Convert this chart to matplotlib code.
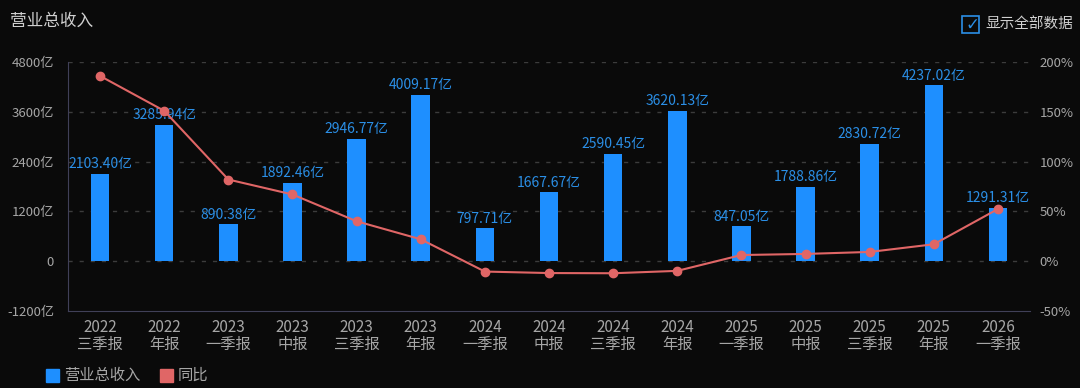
import matplotlib
matplotlib.use("Agg")
import matplotlib.pyplot as plt
from matplotlib.patches import Rectangle
import numpy as np

plt.rcParams['font.family'] = ['Noto Sans CJK SC', 'DejaVu Sans']

# 数据
periods = ["2022\n三季报", "2022\n年报", "2023\n一季报", "2023\n中报", "2023\n三季报",
           "2023\n年报", "2024\n一季报", "2024\n中报", "2024\n三季报", "2024\n年报",
           "2025\n一季报", "2025\n中报", "2025\n三季报", "2025\n年报", "2026\n一季报"]
revenue = [2103.40, 3285.94, 890.38, 1892.46, 2946.77, 4009.17, 797.71, 1667.67,
           2590.45, 3620.13, 847.05, 1788.86, 2830.72, 4237.02, 1291.31]
yoy = [186, 151, 82, 67, 40.1, 22.0, -10.4, -11.9, -12.1, -9.7, 6.2, 7.3, 9.3, 17.0, 52.4]
left_ticks = [-1200, 0, 1200, 2400, 3600, 4800]
right_ticks = [-50, 0, 50, 100, 150, 200]

bg = "#0a0a0a"
bar_color = "#1e8fff"
line_color = "#e06666"
label_color = "#2b8fe6"
tick_color = "#a6a6a6"

fig = plt.figure(figsize=(10.8, 3.88), dpi=100, facecolor=bg)
ax = fig.add_axes([68 / 1080, 1 - 311 / 388, 962 / 1080, 249 / 388], facecolor=bg)
x = np.arange(len(periods))

ax.bar(x, revenue, width=0.29, color=bar_color, zorder=3)
for xi, v in zip(x, revenue):
    ax.text(xi, v + 60, f"{v:.2f}亿", ha="center", va="bottom", color=label_color,
            fontsize=10, zorder=5)

ax.set_ylim(-1200, 4800)
ax.set_xlim(-0.5, len(periods) - 0.5)
ax.set_yticks(left_ticks)
ax.set_yticklabels([("0" if t == 0 else f"{t}亿") for t in left_ticks])
ax.set_xticks(x)
ax.set_xticklabels(periods, linespacing=0.95)
ax.tick_params(axis="both", length=0, colors=tick_color, labelsize=9.5)
ax.tick_params(axis="x", labelsize=11, pad=6)
ax.tick_params(axis="y", pad=10)
for t in left_ticks[1:]:
    ax.axhline(t, color="#3c3c3c", linestyle=(0, (3, 5)), linewidth=1, zorder=1)
for s in ["top", "right"]:
    ax.spines[s].set_visible(False)
ax.spines["left"].set_color("#404058")
ax.spines["bottom"].set_color("#404058")

ax2 = ax.twinx()
ax2.plot(x, yoy, color=line_color, linewidth=1.5, marker="o", markersize=6, zorder=4)
ax2.set_ylim(-50, 200)
ax2.set_yticks(right_ticks)
ax2.set_yticklabels([f"{t}%" for t in right_ticks])
ax2.tick_params(axis="y", length=0, colors=tick_color, labelsize=9.5, pad=7)
for s in ax2.spines.values():
    s.set_visible(False)

# 标题与复选框
fig.text(10 / 1080, 1 - 21 / 388, "营业总收入", color="#d0d0d0", fontsize=12, va="center")
fig.patches.append(Rectangle((962 / 1080, 1 - 33 / 388), 17 / 1080, 17 / 388,
                             transform=fig.transFigure, fill=False,
                             edgecolor="#2b8fe6", linewidth=1.2))
fig.text(965 / 1080, 1 - 25 / 388, "✓", color="#2b8fe6", fontsize=12, va="center",
         family=["DejaVu Sans"])
fig.text(985 / 1080, 1 - 24 / 388, "显示全部数据", color="#d0d0d0", fontsize=10.5,
         va="center")

# 图例
fig.patches.append(Rectangle((46 / 1080, 1 - 382 / 388), 13 / 1080, 13 / 388,
                             transform=fig.transFigure, color=bar_color))
fig.text(64 / 1080, 1 - 375 / 388, "营业总收入", color="#a6a6a6", fontsize=11, va="center")
fig.patches.append(Rectangle((160 / 1080, 1 - 382 / 388), 13 / 1080, 13 / 388,
                             transform=fig.transFigure, color=line_color))
fig.text(178 / 1080, 1 - 375 / 388, "同比", color="#a6a6a6", fontsize=11, va="center")

fig.savefig("out.png", dpi=100, facecolor=bg)
